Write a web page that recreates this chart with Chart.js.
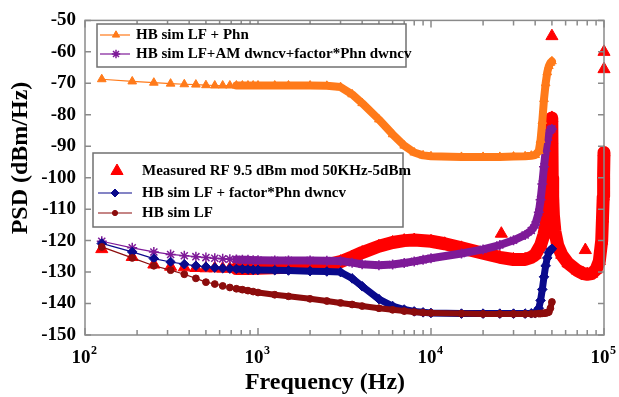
<!DOCTYPE html>
<html>
<head>
<meta charset="utf-8">
<script src="https://cdn.jsdelivr.net/npm/chart.js@4.4.1/dist/chart.umd.min.js"></script>
<style>
  html, body { margin: 0; padding: 0; background: #fff; }
</style>
</head>
<body>
<canvas id="psdChart" width="619" height="397"></canvas>
<script>
// frequencies (Hz) shared by the four HB simulation curves
const simFreq = [125, 187.5, 250, 312.5, 375, 437.5, 500, 562.5, 625, 687.5, 750, 812.5, 875, 937.5,
    1000, 1250, 1500, 2000, 2500, 3000, 3500, 4000, 5000, 6000, 7000, 8000, 9000,
    10000, 15000, 20000, 25000, 30000, 35000, 38000, 40000, 42000, 43000, 44000, 45000,
    46000, 47000, 48000, 49000, 50000];

// HB sim LF + Phn
const lfPhn = [-68.7, -69.4, -69.8, -70.1, -70.3, -70.4, -70.6, -70.7, -70.7, -70.7, -70.7, -70.7, -70.7, -70.7,
    -70.7, -70.7, -70.7, -70.7, -70.8, -71.2, -73.5, -76.3, -81.5, -86.2, -89.8, -92, -92.9,
    -93.2, -93.4, -93.4, -93.4, -93.3, -93.2, -93, -92.8, -91.5, -88, -82, -75,
    -70, -66.5, -64.5, -63.5, -63];

// HB sim LF+AM dwncv+factor*Phn dwncv
const amPhn = [-120.2, -122.3, -123.6, -124.4, -124.8, -125.1, -125.4, -125.6, -125.8, -125.9, -126, -126.1, -126.1, -126.2,
    -126.2, -126.3, -126.3, -126.3, -126.4, -126.5, -127, -127.5, -127.8, -127.6, -127.1, -126.6, -126.1,
    -125.6, -124.1, -122.8, -121.4, -119.9, -118.2, -116.8, -115, -111, -107, -102, -96.5,
    -91.5, -88, -85.8, -84.8, -84.5];

// HB sim LF + factor*Phn dwncv
const factorPhn = [-120.9, -123.6, -125.7, -126.8, -127.5, -128, -128.3, -128.6, -128.8, -128.9, -129, -129.1, -129.2, -129.3,
    -129.3, -129.4, -129.5, -129.7, -129.8, -130, -132, -134.5, -138.6, -140.8, -141.9, -142.5, -142.8,
    -143, -143.2, -143.2, -143.2, -143.2, -143.2, -143.1, -143, -141.5, -139, -135.5, -131.5,
    -128, -125.5, -123.8, -123, -122.6];

// HB sim LF
const lfOnly = [-122, -125.5, -128, -129.4, -130.7, -132, -133.2, -133.8, -134.4, -134.9, -135.3, -135.6, -135.9, -136.2,
    -136.5, -137.2, -137.7, -138.5, -139.2, -139.8, -140.3, -140.8, -141.5, -142, -142.4, -142.7, -142.9,
    -143, -143.2, -143.3, -143.3, -143.3, -143.3, -143.3, -143.3, -143.2, -143.2, -143.1, -143.1,
    -143, -142.9, -142.7, -141.5, -139.5];

// Measured RF 9.5 dBm mod 50KHz-5dBm
const measFreq = [125, 187.5, 250, 312.5, 375, 437.5, 500, 562.5, 625, 687.5, 750, 875, 1000, 1500, 2000, 2500,
    3000, 3500, 4000, 5000, 6000, 7000, 8000, 10000, 12000, 15000, 20000, 25000, 30000, 35000,
    38000, 40000, 43000, 45000, 46500, 47500, 48500, 49000, 49500, 49800, 50000, 50200, 50500,
    51000, 52000, 54000, 57000, 62000, 70000, 76000, 80000, 85000, 90000, 94000, 97000, 98000,
    99000, 99500, 100000];
const measVal = [-122.7, -125.2, -127.6, -128.3, -128.5, -128.7, -128.8, -128.8, -128.9, -128.9, -128.9, -128.9, -128.8, -128.5, -128.3, -127.7,
    -126.7, -125.2, -123.8, -121.8, -120.6, -120, -119.8, -120.2, -121, -122.3, -124, -125.3, -126, -126,
    -125.3, -124.5, -121.5, -118, -114, -109, -104, -99, -94, -88, -81, -100, -106,
    -112, -117, -121.5, -124.5, -127.2, -129.5, -130.5, -130.7, -130.5, -129.2, -126.5, -120, -113,
    -106, -99, -92];

// isolated measured points
const spurFreq = [25500, 50000, 78000, 100000, 100000];
const spurVal = [-117.8, -55, -123, -60, -65.5];

const yTicks = [-150, -140, -130, -120, -110, -100, -90, -80, -70, -60, -50];
const xDecades = [100, 1000, 10000, 100000];
const xExponents = ['2', '3', '4', '5'];

const ORANGE = '#ff7a1a';
const PURPLE = '#7e1a98';
const BLUE = '#0a0a8c';
const DARKRED = '#8c0c0c';
const RED = '#ff0000';
const SERIF = '"Liberation Serif", "Times New Roman", serif';

function pts(fs, vs) {
    return fs.map(function (f, i) { return { x: f, y: vs[i] }; });
}

function simSet(label, vals, color, style, r, bw, thick, order) {
    return {
        label: label,
        data: pts(simFreq, vals),
        showLine: true,
        borderColor: color,
        backgroundColor: color,
        borderWidth: 1.2,
        borderJoinStyle: 'round',
        borderCapStyle: 'round',
        pointStyle: style,
        pointRadius: r,
        pointBackgroundColor: color,
        pointBorderColor: color,
        pointBorderWidth: bw,
        order: order,
        segment: {
            borderWidth: function (ctx) { return ctx.p0.parsed.x >= 740 ? thick : 1.2; }
        }
    };
}

const datasets = [
    simSet('HB sim LF + Phn', lfPhn, ORANGE, 'triangle', 5, 1, 8, 0),
    simSet('HB sim LF+AM dwncv+factor*Phn dwncv', amPhn, PURPLE, 'star', 5, 1.5, 8, 3),
    {
        label: 'Measured RF 9.5 dBm mod 50KHz-5dBm',
        data: pts(measFreq, measVal),
        showLine: true,
        borderColor: RED,
        borderWidth: 13,
        borderJoinStyle: 'round',
        borderCapStyle: 'round',
        pointStyle: 'triangle',
        pointRadius: 7,
        pointBackgroundColor: RED,
        pointBorderColor: RED,
        pointBorderWidth: 1,
        clip: false,
        order: 4,
        segment: {
            borderColor: function (ctx) { return ctx.p0.parsed.x >= 700 ? RED : 'rgba(255,0,0,0)'; }
        }
    },
    simSet('HB sim LF + factor*Phn dwncv', factorPhn, BLUE, 'rectRot', 4.8, 1, 7, 2),
    simSet('HB sim LF', lfOnly, DARKRED, 'circle', 3.4, 1, 6, 1),
    {
        label: 'spurs',
        data: pts(spurFreq, spurVal),
        showLine: false,
        pointStyle: 'triangle',
        pointRadius: 7,
        pointBackgroundColor: RED,
        pointBorderColor: RED,
        pointBorderWidth: 1,
        clip: false,
        order: 5
    }
];

// two legend boxes inside the plot, as in the figure
const legendBoxes = [
    { x: 97, y: 24, w: 309, h: 43, items: [[0, 35], [1, 54]], lineX: [100, 130], markX: 116, textX: 136 },
    { x: 93, y: 153, w: 310, h: 74, items: [[2, 171], [3, 193], [4, 213]], lineX: [98, 132], markX: 115, textX: 142 }
];

const framePlugin = {
    id: 'frame',
    afterDatasetsDraw: function (chart) {
        const ctx = chart.ctx;
        const a = chart.chartArea;
        const x = chart.scales.x;
        const y = chart.scales.y;
        ctx.save();
        ctx.strokeStyle = '#8a8a8a';
        ctx.lineWidth = 1.5;
        ctx.strokeRect(a.left, a.top, a.right - a.left, a.bottom - a.top);
        ctx.beginPath();
        yTicks.forEach(function (v) {
            const py = y.getPixelForValue(v);
            ctx.moveTo(a.left, py); ctx.lineTo(a.left + 6, py);
            ctx.moveTo(a.right, py); ctx.lineTo(a.right - 6, py);
        });
        xDecades.forEach(function (d) {
            for (let m = 1; m < 10; m++) {
                const v = d * m;
                if (v > x.max) break;
                const px = x.getPixelForValue(v);
                const len = m === 1 ? 7 : 5;
                ctx.moveTo(px, a.bottom); ctx.lineTo(px, a.bottom - len);
                ctx.moveTo(px, a.top); ctx.lineTo(px, a.top + len);
            }
        });
        ctx.stroke();

        // x tick labels 10^n
        ctx.fillStyle = '#000';
        ctx.textBaseline = 'alphabetic';
        xDecades.forEach(function (d, i) {
            const px = x.getPixelForValue(d);
            ctx.font = 'bold 19px ' + SERIF;
            const w1 = ctx.measureText('10').width;
            ctx.font = 'bold 12px ' + SERIF;
            const w2 = ctx.measureText(xExponents[i]).width;
            const left = px - (w1 + w2) / 2 - 1;
            ctx.font = 'bold 19px ' + SERIF;
            ctx.textAlign = 'left';
            ctx.fillText('10', left, 363);
            ctx.font = 'bold 12px ' + SERIF;
            ctx.fillText(xExponents[i], left + w1 + 0.5, 354);
        });

        // axis titles
        ctx.textAlign = 'center';
        ctx.textBaseline = 'middle';
        ctx.font = 'bold 24px ' + SERIF;
        ctx.fillText('Frequency (Hz)', 325, 383);
        ctx.translate(21, 158);
        ctx.rotate(-Math.PI / 2);
        ctx.fillText('PSD (dBm/Hz)', 0, 0);
        ctx.restore();

        // legends
        ctx.save();
        legendBoxes.forEach(function (b) {
            ctx.fillStyle = '#fff';
            ctx.fillRect(b.x, b.y, b.w, b.h);
            ctx.strokeStyle = '#707070';
            ctx.lineWidth = 1.5;
            ctx.strokeRect(b.x, b.y, b.w, b.h);
            b.items.forEach(function (it) {
                const ds = chart.data.datasets[it[0]];
                const ly = it[1];
                if (ds.borderWidth < 5) {
                    ctx.strokeStyle = ds.borderColor;
                    ctx.lineWidth = 1.2;
                    ctx.beginPath();
                    ctx.moveTo(b.lineX[0], ly); ctx.lineTo(b.lineX[1], ly);
                    ctx.stroke();
                }
                ctx.fillStyle = ds.pointBackgroundColor;
                ctx.strokeStyle = ds.pointBorderColor;
                ctx.lineWidth = ds.pointBorderWidth;
                Chart.helpers.drawPoint(ctx, {
                    pointStyle: ds.pointStyle,
                    radius: ds.pointRadius > 6 ? ds.pointRadius : ds.pointRadius - 0.8,
                    rotation: 0,
                    borderWidth: ds.pointBorderWidth
                }, b.markX + (ds.pointRadius > 6 ? 2 : 0), ly);
                ctx.fillStyle = '#000';
                ctx.font = 'bold 15px ' + SERIF;
                ctx.textAlign = 'left';
                ctx.textBaseline = 'middle';
                ctx.fillText(ds.label, b.textX, ly);
            });
        });
        ctx.restore();
    }
};

Chart.defaults.font.family = SERIF;

new Chart(document.getElementById('psdChart').getContext('2d'), {
    type: 'scatter',
    data: { datasets: datasets },
    options: {
        responsive: false,
        animation: false,
        layout: { padding: { top: 19, right: 15, left: 0, bottom: 0 } },
        plugins: { legend: { display: false }, tooltip: { enabled: false } },
        scales: {
            x: {
                type: 'logarithmic',
                min: 100,
                max: 100000,
                grid: { display: false, drawTicks: false },
                border: { display: false },
                ticks: { display: false },
                afterFit: function (s) { s.height = 62; }
            },
            y: {
                min: -150,
                max: -50,
                grid: { display: false, drawTicks: false },
                border: { display: false },
                ticks: {
                    stepSize: 10,
                    padding: 9,
                    color: '#000',
                    font: { size: 19, weight: 'bold', family: SERIF }
                },
                afterFit: function (s) { s.width = 85; }
            }
        }
    },
    plugins: [framePlugin]
});
</script>
</body>
</html>
